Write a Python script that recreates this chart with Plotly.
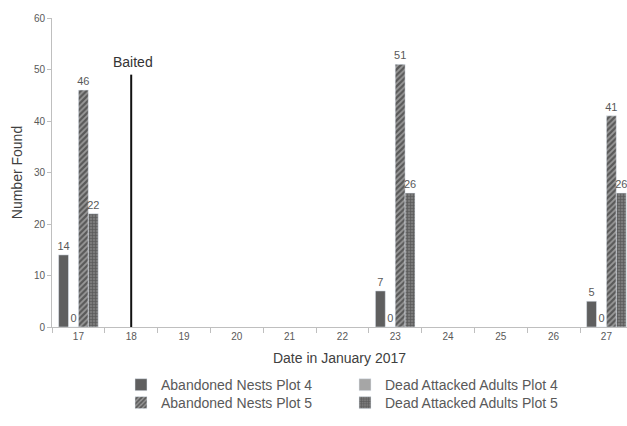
import plotly.graph_objects as go

days = ["17", "18", "19", "20", "21", "22", "23", "24", "25", "26", "27"]
abandoned_p4 = [14, None, None, None, None, None, 7, None, None, None, 5]
dead_p4 = [0, None, None, None, None, None, 0, None, None, None, 0]
abandoned_p5 = [46, None, None, None, None, None, 51, None, None, None, 41]
dead_p5 = [22, None, None, None, None, None, 26, None, None, None, 26]
baited_day = "18"
baited_value = 49
baited_label = "Baited"

font_fam = "Liberation Sans, Arial, sans-serif"
txt_col = "#595959"

def labels(vals):
    return [("" if v is None else str(v)) for v in vals]

fig = go.Figure()
series = [
    ("Abandoned Nests Plot 4", abandoned_p4, dict(color="#5f5f5f"), "legend"),
    ("Dead Attacked Adults Plot 4", dead_p4, dict(color="#a6a6a6"), "legend"),
    ("Abandoned Nests Plot 5", abandoned_p5,
     dict(color="#222", pattern=dict(shape="/", fgcolor="#1a1a1a", bgcolor="#999999", size=4, solidity=0.55)),
     "legend2"),
    ("Dead Attacked Adults Plot 5", dead_p5,
     dict(color="#555", pattern=dict(shape="+", fgcolor="#383838", bgcolor="#7a7a7a", size=3, solidity=0.4)),
     "legend2"),
]
tf = dict(size=11, color=txt_col, family=font_fam)
for name, vals, marker, lg in series:
    fig.add_trace(go.Bar(
        x=days, y=vals, name=name, marker=marker, legend=lg,
        text=labels(vals), textposition="outside", constraintext="none",
        textfont=tf, outsidetextfont=tf, insidetextfont=tf,
        cliponaxis=False,
    ))

bi = days.index(baited_day)
fig.add_shape(type="line", xref="x", yref="y", x0=bi, x1=bi, y0=0, y1=baited_value,
              line=dict(color="#111", width=2))
fig.add_annotation(x=bi, y=baited_value, xref="x", yref="y", text=baited_label,
                   showarrow=False, yanchor="bottom", yshift=3, xshift=2,
                   font=dict(size=14, color="#333", family=font_fam))

leg_common = dict(orientation="h", x=0.12, xanchor="left", yanchor="middle",
                  entrywidth=179, entrywidthmode="pixels",
                  font=dict(size=14, color=txt_col, family=font_fam),
                  itemwidth=30, tracegroupgap=0, bgcolor="rgba(0,0,0,0)")

fig.update_layout(
    width=627, height=426,
    margin=dict(l=52, r=0, t=18, b=99, autoexpand=False),
    paper_bgcolor="white", plot_bgcolor="white",
    barmode="group", bargap=0.25, bargroupgap=0,
    font=dict(family=font_fam, color=txt_col),
    showlegend=True,
    legend=dict(leg_common, y=-0.188),
    legend2=dict(leg_common, y=-0.246),
)
fig.update_xaxes(
    type="category", range=[-0.5, 10.39], automargin=False,
    showline=True, linecolor="#bfbfbf", linewidth=1,
    ticks="outside", tickson="boundaries", ticklen=5, tickcolor="#bfbfbf",
    tickfont=dict(size=10, color=txt_col), showgrid=False,
    title=dict(text="Date in January 2017", font=dict(size=14, color="#404040"), standoff=12),
)
fig.update_yaxes(
    range=[0, 60], dtick=10, automargin=False,
    showline=True, linecolor="#bfbfbf", linewidth=1,
    ticks="outside", ticklen=4, tickcolor="#bfbfbf",
    tickfont=dict(size=10, color=txt_col), showgrid=False, zeroline=False,
    title=dict(text="Number Found", font=dict(size=14, color="#404040"), standoff=7),
)

fig.write_html(
    "out.html",
    config={"displayModeBar": False},
    post_script="document.body.style.margin='0';document.body.style.overflow='hidden';",
)
